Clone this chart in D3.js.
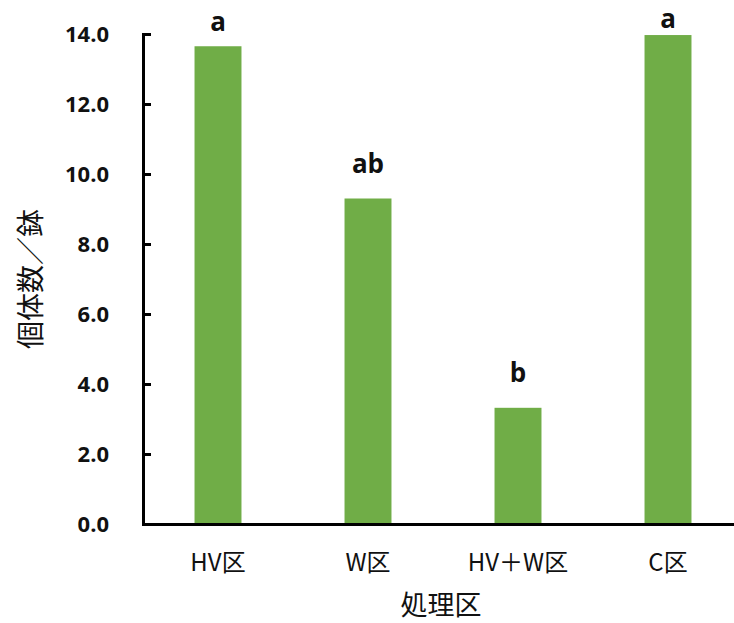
<!DOCTYPE html>
<html>
<head>
<meta charset="utf-8">
<script src="https://cdn.jsdelivr.net/npm/d3@7"></script>
<style>
  body { margin: 0; background: #fff; }
  .tick-y text { font-family: "Open Sans", sans-serif; font-weight: 700; font-size: 22px; fill: #111; }
  .tick-x text { font-family: "Noto Sans CJK JP", sans-serif; font-size: 24px; fill: #111; }
  .sig { font-family: "Open Sans", sans-serif; font-weight: 700; font-size: 26px; fill: #111; }
  .axis-title { font-family: "Noto Sans CJK JP", sans-serif; font-size: 27px; fill: #111; }
</style>
</head>
<body>
<div id="chart"></div>
<script>
// data
var categories = ["HV区", "W区", "HV＋W区", "C区"];
var counts = [13.65, 9.3, 3.32, 13.97];
var letters = ["a", "ab", "b", "a"];
// height (in counts) at which each letter sits
var letterAt = [14.09, 10.03, 4.06, 14.17];
var yTicks = [0, 2, 4, 6, 8, 10, 12, 14];

var svgWidth = 734;
var svgHeight = 623;

var margin = { top: 34, left: 143 };
var plotHeight = 490;
var plotWidth = 600;

var svg = d3.select("#chart")
  .append("svg")
  .attr("width", svgWidth)
  .attr("height", svgHeight);

var chartGroup = svg.append("g")
  .attr("transform", `translate(${margin.left}, ${margin.top})`);

var xScale = d3.scaleBand()
  .domain(categories)
  .range([0, plotWidth])
  .paddingInner(0.687)
  .paddingOuter(0.3435);

var yScale = d3.scaleLinear()
  .domain([0, 14])
  .range([plotHeight, 0]);

// bars
chartGroup.selectAll("rect.bar")
  .data(categories)
  .enter()
  .append("rect")
  .attr("class", "bar")
  .attr("x", d => xScale(d))
  .attr("y", (d, i) => yScale(counts[i]))
  .attr("width", xScale.bandwidth())
  .attr("height", (d, i) => plotHeight - yScale(counts[i]))
  .attr("fill", "#70ad47");

// significance letters
chartGroup.selectAll("text.sig")
  .data(categories)
  .enter()
  .append("text")
  .attr("class", "sig")
  .attr("x", d => xScale(d) + xScale.bandwidth() / 2)
  .attr("y", (d, i) => yScale(letterAt[i]))
  .attr("text-anchor", "middle")
  .text((d, i) => letters[i]);

// y axis, ticks point inward
var leftAxis = d3.axisLeft(yScale)
  .tickValues(yTicks)
  .tickFormat(d3.format(".1f"))
  .tickSizeInner(-8)
  .tickSizeOuter(-8)
  .tickPadding(34);

var yAxis = chartGroup.append("g")
  .attr("class", "tick-y")
  .call(leftAxis);

yAxis.select(".domain").attr("stroke", "#000").attr("stroke-width", 3);
yAxis.selectAll(".tick line").attr("stroke", "#000").attr("stroke-width", 3);

// x axis
var bottomAxis = d3.axisBottom(xScale)
  .tickSize(0)
  .tickPadding(30);

var xAxis = chartGroup.append("g")
  .attr("class", "tick-x")
  .attr("transform", `translate(0, ${plotHeight})`)
  .call(bottomAxis);

xAxis.select(".domain").attr("stroke", "#000").attr("stroke-width", 3);

// axis titles
svg.append("text")
  .attr("class", "axis-title")
  .attr("text-anchor", "middle")
  .style("font-size", "28px")
  .attr("transform", `translate(41, ${margin.top + plotHeight / 2}) rotate(-90)`)
  .text("個体数／鉢");

svg.append("text")
  .attr("class", "axis-title")
  .attr("text-anchor", "middle")
  .attr("x", margin.left + plotWidth / 2 - 2)
  .attr("y", 615)
  .text("処理区");
</script>
</body>
</html>
